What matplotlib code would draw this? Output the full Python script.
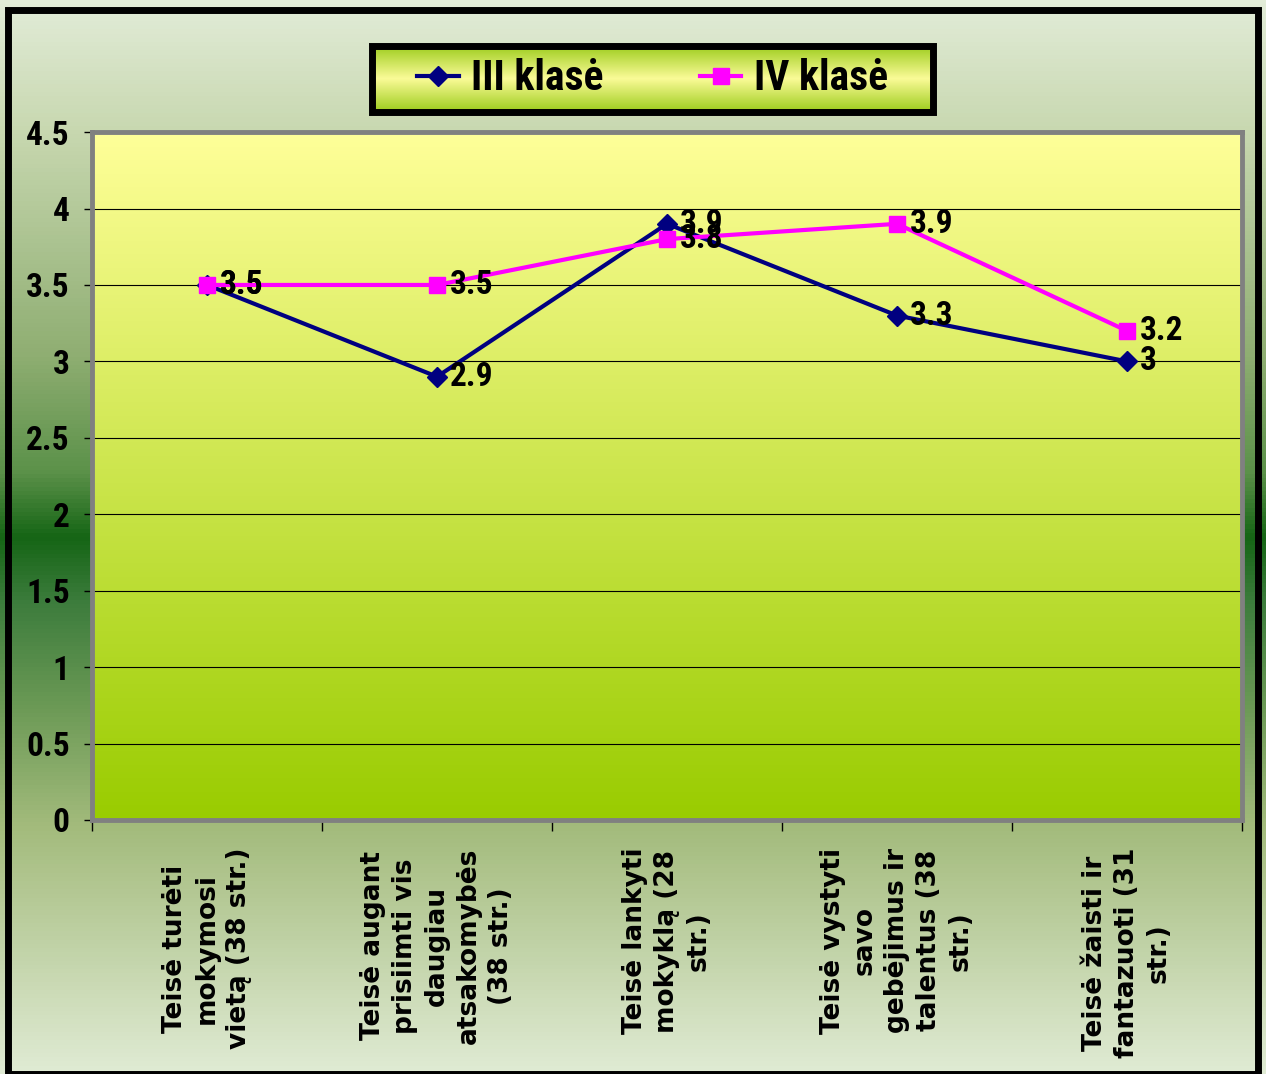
#!/usr/bin/env python3

import matplotlib
matplotlib.use("Agg")
import matplotlib.pyplot as plt
import numpy as np
from matplotlib.colors import LinearSegmentedColormap
from matplotlib.lines import Line2D
from matplotlib.patches import Rectangle

categories = [
   "Teisė turėti\nmokymosi\nvietą (38 str.)",
   "Teisė augant\nprisiimti vis\ndaugiau\natsakomybės\n(38 str.)",
   "Teisė lankyti\nmokyklą (28\nstr.)",
   "Teisė vystyti\nsavo\ngebėjimus ir\ntalentus (38\nstr.)",
   "Teisė žaisti ir\nfantazuoti (31\nstr.)",
]
series_names = ["III klasė", "IV klasė"]
values_iii = [3.5, 2.9, 3.9, 3.3, 3.0]
values_iv = [3.5, 3.5, 3.8, 3.9, 3.2]
y_ticks = [0, 0.5, 1, 1.5, 2, 2.5, 3, 3.5, 4, 4.5]

NARROW = ['Roboto Condensed', 'Open Sans Condensed', 'DejaVu Sans']

fig = plt.figure(figsize=(12.66, 10.74), dpi=100)

# page background: light at top and bottom, dark green band through the middle
bg = fig.add_axes([0, 0, 1, 1])
bg.set_axis_off()
bg_cmap = LinearSegmentedColormap.from_list("page", [
   (0.0, "#e2ecd8"), (0.12, "#c8d8b0"), (0.33, "#8fae72"), (0.44, "#5b9149"),
   (0.50, "#156515"), (0.56, "#3c7c3c"), (0.66, "#6c9a56"), (0.77, "#a3bb7c"),
   (1.0, "#e0ebd4")])
bg.imshow(np.linspace(0, 1, 256).reshape(-1, 1), cmap=bg_cmap, aspect='auto',
          extent=[0, 1, 0, 1], transform=bg.transAxes)
bg.add_patch(Rectangle((0.006, 0.0), 0.988, 0.991, transform=bg.transAxes,
                       fill=False, edgecolor='black', linewidth=5))

ax = fig.add_axes([0.0727, 0.2365, 0.9083, 0.6405])
plot_cmap = LinearSegmentedColormap.from_list("plot", ["#99cc00", "#ffff99"])
ax.imshow(np.linspace(0, 1, 256).reshape(-1, 1), cmap=plot_cmap, aspect='auto',
          origin='lower', extent=[0, 1, 0, 1], transform=ax.transAxes, zorder=-1)

x = np.arange(len(categories))
ax.plot(x, values_iii, color='#000080', marker='D', markersize=10, linewidth=3,
        label=series_names[0], zorder=3)
ax.plot(x, values_iv, color='#ff00ff', marker='s', markersize=11, linewidth=3,
        label=series_names[1], zorder=4)

for vals in (values_iii, values_iv):
   for xi, v in zip(x, vals):
      ax.annotate(f"{v:g}", (xi, v), xytext=(9, 0), textcoords='offset points',
                  ha='left', va='center', fontsize=24, fontweight='bold',
                  family=NARROW, color='black', zorder=5)

ax.set_xlim(-0.5, len(categories) - 0.5)
ax.set_ylim(0, 4.5)
ax.set_yticks(y_ticks)
ax.set_yticklabels([f"{v:g}" for v in y_ticks], fontsize=24, fontweight='bold',
                   family=NARROW)
ax.yaxis.grid(True, color='black', linewidth=0.8)
ax.tick_params(axis='y', length=6, width=1, direction='out', pad=10)

ax.set_xticks(x)
ax.set_xticklabels(categories, rotation=90, ha='center', va='top',
                   multialignment='center', fontsize=19, fontweight='bold',
                   family='DejaVu Sans', linespacing=1.3)
ax.set_xticks(np.arange(-0.5, len(categories)), minor=True)
ax.tick_params(axis='x', which='major', length=0, pad=20)
ax.tick_params(axis='x', which='minor', length=8, width=1, direction='out')

for s in ax.spines.values():
   s.set_color('#808080')
   s.set_linewidth(3.5)

# legend box with its own green-yellow-green fill
leg_ax = fig.add_axes([0.294, 0.8957, 0.443, 0.0615])
leg_ax.set_axis_off()
leg_cmap = LinearSegmentedColormap.from_list("legend", ["#9ccc1c", "#fbfb98", "#9ccc1c"])
leg_ax.imshow(np.linspace(0, 1, 128).reshape(-1, 1), cmap=leg_cmap, aspect='auto',
              extent=[0, 1, 0, 1], transform=leg_ax.transAxes)
leg_ax.add_patch(Rectangle((0, 0), 1, 1, transform=leg_ax.transAxes, fill=False,
                           edgecolor='black', linewidth=5, clip_on=False))
handles = [
   Line2D([], [], color='#000080', marker='D', markersize=10, linewidth=3),
   Line2D([], [], color='#ff00ff', marker='s', markersize=11, linewidth=3),
]
leg_ax.legend(handles, series_names, loc='center', ncol=2, frameon=False,
              handlelength=1.0, handletextpad=0.3, columnspacing=2.3,
              prop={'family': NARROW, 'weight': 'bold', 'size': 30})

fig.savefig("out.png", dpi=100)
